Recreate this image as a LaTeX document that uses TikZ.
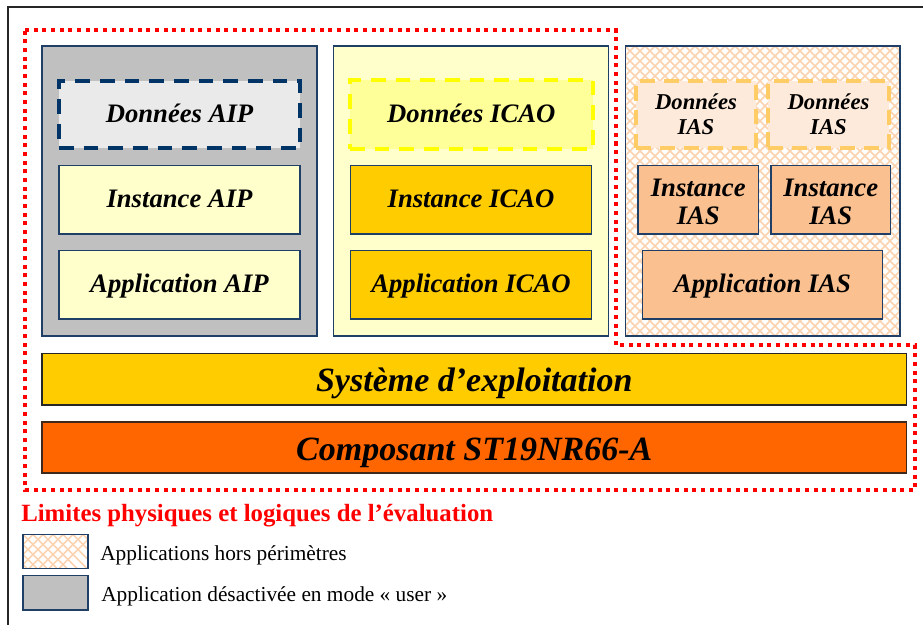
\documentclass[tikz,border=0pt]{standalone}
\usepackage{fontspec}
\setmainfont{Liberation Serif}
\usetikzlibrary{fit,calc}
\definecolor{navy}{HTML}{1F3F66}
\definecolor{aipdash}{HTML}{003366}
\definecolor{aipdata}{HTML}{EAEAEA}
\definecolor{grayfill}{HTML}{C0C0C0}
\definecolor{lightyellow}{HTML}{FFFFCC}
\definecolor{icaodata}{HTML}{FFFF99}
\definecolor{icaodash}{HTML}{FFFF00}
\definecolor{gold}{HTML}{FFCC00}
\definecolor{hatchcol}{HTML}{FBD3B0}
\definecolor{iasdata}{HTML}{FDEADA}
\definecolor{iasdash}{HTML}{FFCC66}
\definecolor{iasfill}{HTML}{FAC090}
\definecolor{compfill}{HTML}{FF6600}
\definecolor{compborder}{HTML}{40281A}
\definecolor{redline}{HTML}{FF0000}
\begin{document}
\begin{tikzpicture}[x=0.75pt,y=-0.75pt,
  lbl/.style={font=\bfseries\itshape\fontsize{20}{21}\selectfont, anchor=base, inner sep=0pt},
  lbltwo/.style={font=\bfseries\itshape\fontsize{20}{21}\selectfont, align=center, inner sep=0pt},
  lblsmall/.style={font=\bfseries\itshape\fontsize{17}{18.5}\selectfont, align=center, inner sep=0pt},
  lblbig/.style={font=\bfseries\itshape\fontsize{25.5}{27}\selectfont, anchor=base, inner sep=0pt},
  fitbox/.style={inner sep=0pt, outer sep=0pt},
  colbox/.style={fitbox, draw=navy, line width=0.8pt},
  inbox/.style={fitbox, draw=navy, line width=0.8pt},
  databox/.style={fitbox, line width=3pt, dash pattern=on 11pt off 7.5pt},
  hatchline/.style={draw=hatchcol, line width=1.1pt},
  boundary/.style={draw=redline, line width=3pt, dash pattern=on 3pt off 3.5pt},
  legtext/.style={font=\fontsize{16}{18}\selectfont, anchor=base west, inner sep=0pt}
]
\useasboundingbox (0,0) rectangle (923,624);
\fill[white] (0,0) rectangle (923,624);
% outer frame
\draw[line width=1pt, black!85] (8,7) rectangle (945,650);

% ===== AIP column =====
\node[colbox, fill=grayfill, fit={(42,46) (317,336)}] (aipcol) {};
\node[databox, fill=aipdata, draw=aipdash, fit={(59,81) (300,148)}] (aipdata) {};
\node[lbl] (aipdatat) at ($(aipdata.center)+(0,8)$) {Données AIP};
\node[inbox, fill=lightyellow, fit={(59,165.5) (300,234)}] (aipinst) {};
\node[lbl] (aipinstt) at ($(aipinst.center)+(0,7.5)$) {Instance AIP};
\node[inbox, fill=lightyellow, fit={(59,250.5) (300,319)}] (aipapp) {};
\node[lbl] (aipappt) at ($(aipapp.center)+(0,7.5)$) {Application AIP};

% ===== ICAO column =====
\node[colbox, fill=lightyellow, fit={(333.5,46) (608.5,336)}] (icaocol) {};
\node[databox, fill=icaodata, draw=icaodash, fit={(350,80.5) (592.5,149)}] (icaodata) {};
\node[lbl] (icaodatat) at ($(icaodata.center)+(0,7.5)$) {Données ICAO};
\node[inbox, fill=gold, fit={(350.5,165.5) (591.5,234)}] (icaoinst) {};
\node[lbl] (icaoinstt) at ($(icaoinst.center)+(0,7.5)$) {Instance ICAO};
\node[inbox, fill=gold, fit={(350.5,250.5) (591.5,319)}] (icaoapp) {};
\node[lbl] (icaoappt) at ($(icaoapp.center)+(0,7.5)$) {Application ICAO};

% ===== IAS column (hatched) =====
\fill[white] (625.5,46) rectangle (900,336);
\begin{scope}
  \clip (625.5,46) rectangle (900,336);
  \foreach \c in {-300,-290,...,300} {
    \draw[hatchline] (\c+625,46) -- ++(290,290);
    \draw[hatchline] (\c+925,46) -- ++(-290,290);
  }
\end{scope}
\node[colbox, fit={(625.5,46) (900,336)}] (iascol) {};
\node[databox, fill=iasdata, draw=iasdash, dash pattern=on 11pt off 7pt, fit={(636,81) (756,148)}] (iasdata1) {};
\node[lblsmall] (iasdata1t) at (iasdata1.center) {Données\\IAS};
\node[databox, fill=iasdata, draw=iasdash, dash pattern=on 11pt off 7pt, fit={(768,81) (889,148)}] (iasdata2) {};
\node[lblsmall] (iasdata2t) at (iasdata2.center) {Données\\IAS};
\node[inbox, fill=iasfill, fit={(638,165.5) (758.5,234)}] (iasinst1) {};
\node[lbltwo] (iasinst1t) at ($(iasinst1.center)+(0,2)$) {Instance\\IAS};
\node[inbox, fill=iasfill, fit={(771,165.5) (890.5,234)}] (iasinst2) {};
\node[lbltwo] (iasinst2t) at ($(iasinst2.center)+(0,2)$) {Instance\\IAS};
\node[inbox, fill=iasfill, fit={(642.5,250.5) (882.5,319)}] (iasapp) {};
\node[lbl] (iasappt) at ($(iasapp.center)+(0,7.5)$) {Application IAS};

% ===== OS and component =====
\node[fitbox, fill=gold, draw=black!85, line width=1pt, fit={(42,353.5) (906.5,405)}] (os) {};
\node[lblbig] (ost) at ($(os.center)+(0,12.5)$) {Système d’exploitation};
\node[fitbox, fill=compfill, draw=compborder, line width=1.4pt, fit={(42,422) (906.5,473)}] (comp) {};
\node[lblbig] (compt) at ($(comp.center)+(0,12.5)$) {Composant ST19NR66-A};

% ===== evaluation boundary =====
\coordinate (b1) at (25,30);
\coordinate (b2) at (615.5,30);
\coordinate (b3) at (615.5,345);
\coordinate (b4) at (915,345);
\coordinate (b5) at (915,490);
\coordinate (b6) at (25,490);
\draw[boundary] (b1) -- (b2) -- (b3) -- (b4) -- (b5) -- (b6) -- cycle;

% ===== legend =====
\node[font=\bfseries\fontsize{18.6}{20}\selectfont, text=redline, anchor=base west, inner sep=0pt] (title) at (21,521.5) {Limites physiques et logiques de l’évaluation};

\fill[white] (23,534.5) rectangle (88,568.5);
\begin{scope}
  \clip (23,534.5) rectangle (88,568.5);
  \foreach \c in {-40,-30,...,70} {
    \draw[hatchline] (\c+23,534.5) -- ++(40,40);
    \draw[hatchline] (\c+23,534.5) -- ++(-40,40);
  }
\end{scope}
\node[colbox, fit={(23,534.5) (88,568.5)}] (leg1) {};
\node[legtext] (leg1txt) at (100,560) {Applications hors périmètres};

\node[colbox, fill=grayfill, fit={(23,575.5) (88,610)}] (leg2) {};
\node[legtext] (leg2txt) at (101,601.5) {Application désactivée en mode « user »};
\end{tikzpicture}
\end{document}
